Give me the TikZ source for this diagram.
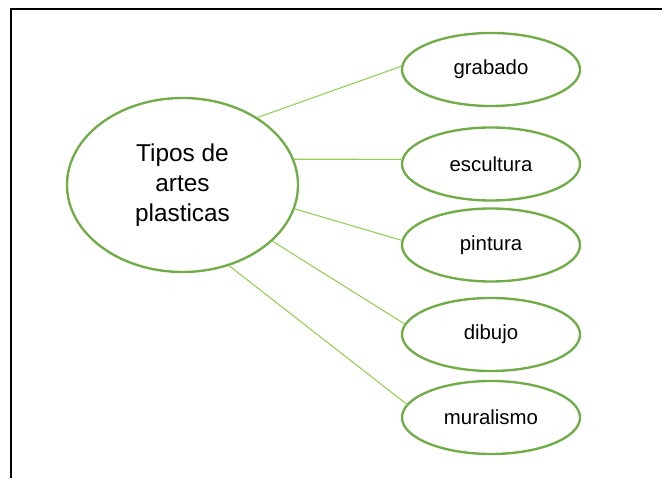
\documentclass[tikz,border=0pt]{standalone}
\usepackage{fontspec}
\setmainfont{Liberation Sans}
\usetikzlibrary{shapes.geometric}

\definecolor{leafgreen}{HTML}{70AD47}
\definecolor{linkgreen}{HTML}{92D050}

\begin{document}
\begin{tikzpicture}[x=0.03cm,y=0.03cm,
  bigoval/.style={ellipse,draw=leafgreen,line width=2pt,inner sep=0pt,
    minimum width=6.93cm,minimum height=5.22cm,align=center,
    font=\fontsize{20.8}{25.5}\selectfont},
  smalloval/.style={ellipse,draw=leafgreen,line width=2pt,inner sep=0pt,
    minimum width=5.34cm,minimum height=2.19cm,
    font=\fontsize{17.4}{20}\selectfont},
  link/.style={draw=linkgreen,line width=0.9pt}]
\useasboundingbox (0,0) rectangle (662,478);
% frame: only top and left edges
\draw[line width=2pt] (11,0) -- (11,469.3) -- (662,469.3);

\node[bigoval] (tipos) at (182.5,293) {Tipos de\\artes\\plasticas};
\foreach \name/\y/\a/\b in {grabado/408.5/42/178,escultura/314/13/177,
    pintura/233/-12/177,dibujo/143.5/-32/173,muralismo/60.5/-60/171}{
  \node[smalloval] (\name) at (491,\y) {\name};
  \draw[link] (tipos.\a) -- (\name.\b);
}
\end{tikzpicture}
\end{document}
